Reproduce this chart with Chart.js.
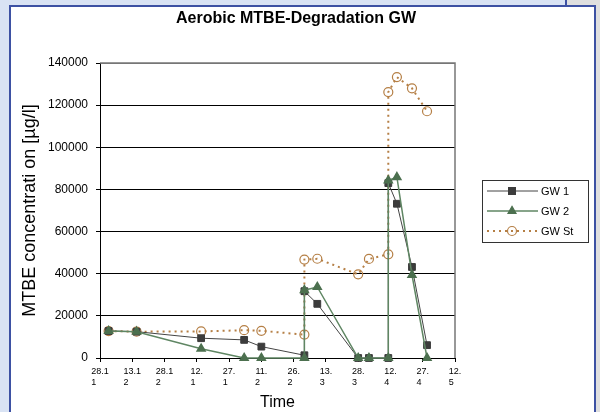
<!DOCTYPE html>
<html lang="en">
<head>
    <meta charset="UTF-8">
    <title>Aerobic MTBE-Degradation GW</title>
    <script src="https://cdn.jsdelivr.net/npm/chart.js@4"></script>
    <style>
        html, body {
            margin: 0;
            padding: 0;
            width: 600px;
            height: 412px;
            overflow: hidden;
            background: #d9e3f4;
        }
        .strip {
            position: absolute;
            background: #dfdfdf;
        }
        #sheet {
            position: absolute;
            left: 9px;
            top: 5px;
            width: 583px;
            height: 420px;
            background: #fff;
            border: 2px solid #3d51a3;
            border-bottom: none;
        }
        #topRight {
            left: 565px;
            top: 0;
            width: 35px;
            height: 5px;
            border-left: 2px solid #3d51a3;
        }
        #rightEdge {
            left: 596px;
            top: 5px;
            width: 4px;
            height: 407px;
        }
        #chartBox {
            position: absolute;
            left: 0;
            top: 0;
        }
    </style>
</head>
<body>
    <div class="strip" id="topRight"></div>
    <div class="strip" id="rightEdge"></div>
    <div id="sheet"></div>
    <canvas id="chartBox" width="600" height="412"></canvas>
    <script>
        // x = days after 28.11, sampling dates shared by all three wells
        const sampleDays = [4, 17, 47, 67, 75, 95, 95, 101, 120, 125, 134, 134, 138, 145, 152];
        const gw1 = [12800, 12500, 9400, 8600, 5400, 1300, 31700, 25700, 0, 0, 0, 83000, 73200, 43200, 6100];
        const gw2 = [12800, 12500, 4400, 0, 0, 0, 32200, 33700, 0, 0, 0, 84300, 85800, 39400, 0];
        const gwSt = [12800, 12500, 12600, 13200, 12900, 11100, 46700, 47100, 39700, 47000, 49200, 126200, 133300, 128000, 117100];

        const xTickLabels = ['28.11', '13.12', '28.12', '12.1', '27.1', '11.2', '26.2', '13.3', '28.3', '12.4', '27.4', '12.5'];
        const yTicks = [0, 20000, 40000, 60000, 80000, 100000, 120000, 140000];

        const FONT = "Arial, 'Liberation Sans', sans-serif";

        function points(ys) {
            return ys.map((y, i) => ({ x: sampleDays[i], y: y }));
        }

        // excel wraps the narrow date cells, second line sits flush left
        function wrapLabel(s) {
            const cut = s.length > 4 ? 4 : 3;
            const first = s.slice(0, cut);
            const second = s.slice(cut) + ' '.repeat(cut === 4 ? 5 : 3);
            return [first, second];
        }

        function drawMarker(ctx, style, x, y, r, fill, stroke) {
            ctx.save();
            ctx.setLineDash([]);
            ctx.beginPath();
            if (style === 'rect') {
                const s = r * Math.SQRT1_2;
                ctx.rect(x - s, y - s, 2 * s, 2 * s);
            } else if (style === 'triangle') {
                ctx.moveTo(x, y - r);
                ctx.lineTo(x + r * 0.866, y + r * 0.5);
                ctx.lineTo(x - r * 0.866, y + r * 0.5);
                ctx.closePath();
            } else {
                ctx.arc(x, y, r, 0, Math.PI * 2);
            }
            if (fill && fill !== 'transparent') {
                ctx.fillStyle = fill;
                ctx.fill();
            }
            ctx.strokeStyle = stroke;
            ctx.lineWidth = 1.2;
            ctx.stroke();
            ctx.restore();
        }

        const plotFrame = {
            id: 'plotFrame',
            beforeDatasetsDraw(chart) {
                const { ctx, chartArea: a } = chart;
                ctx.save();
                ctx.strokeStyle = '#777';
                ctx.lineWidth = 1.5;
                ctx.beginPath();
                ctx.moveTo(a.left, a.top);
                ctx.lineTo(a.right, a.top);
                ctx.lineTo(a.right, a.bottom);
                ctx.stroke();
                ctx.restore();
            }
        };

        const boxLegend = {
            id: 'boxLegend',
            afterDraw(chart) {
                const ctx = chart.ctx;
                ctx.save();
                ctx.strokeStyle = '#333';
                ctx.lineWidth = 1;
                ctx.strokeRect(482.5, 180.5, 106, 62);
                ctx.font = '11px ' + FONT;
                ctx.textBaseline = 'middle';
                ctx.fillStyle = '#000';
                chart.data.datasets.forEach((ds, i) => {
                    const y = 191 + i * 20;
                    ctx.save();
                    ctx.strokeStyle = ds.borderColor;
                    ctx.lineWidth = ds.borderWidth;
                    ctx.setLineDash(ds.borderDash || []);
                    ctx.beginPath();
                    ctx.moveTo(487, y);
                    ctx.lineTo(538, y);
                    ctx.stroke();
                    ctx.restore();
                    drawMarker(ctx, ds.pointStyle, 512, y, ds.pointRadius, ds.pointBackgroundColor, ds.pointBorderColor);
                    ctx.fillText(ds.label, 541, y + 0.5);
                });
                ctx.restore();
            }
        };

        new Chart(document.getElementById('chartBox'), {
            type: 'scatter',
            data: {
                datasets: [
                    {
                        label: 'GW 1',
                        data: points(gw1),
                        order: 1,
                        showLine: true,
                        borderColor: '#444',
                        borderWidth: 1,
                        pointStyle: 'rect',
                        pointRadius: 4.8,
                        pointBackgroundColor: '#3c3c3c',
                        pointBorderColor: '#3c3c3c',
                        clip: false
                    },
                    {
                        label: 'GW 2',
                        data: points(gw2),
                        order: 0,
                        showLine: true,
                        borderColor: '#5f8663',
                        borderWidth: 1.5,
                        pointStyle: 'triangle',
                        pointRadius: 4.6,
                        pointBackgroundColor: '#4c704f',
                        pointBorderColor: '#4c704f',
                        clip: false
                    },
                    {
                        label: 'GW St',
                        data: points(gwSt),
                        order: 2,
                        showLine: true,
                        borderColor: '#b57f45',
                        borderWidth: 2,
                        borderDash: [2, 4],
                        pointStyle: 'circle',
                        pointRadius: 4.5,
                        pointBorderWidth: 1.2,
                        pointBackgroundColor: 'transparent',
                        pointBorderColor: '#b57f45',
                        clip: false
                    }
                ]
            },
            options: {
                responsive: false,
                animation: false,
                layout: {
                    padding: { left: 0, right: 8, top: 0, bottom: 0 }
                },
                scales: {
                    x: {
                        type: 'linear',
                        min: 0,
                        max: 165,
                        afterFit: s => { s.height = 54; },
                        afterBuildTicks: s => {
                            s.ticks = xTickLabels.map((t, i) => ({ value: i * 15 }));
                        },
                        ticks: {
                            autoSkip: false,
                            maxRotation: 0,
                            padding: 4,
                            color: '#000',
                            font: { family: FONT, size: 9 },
                            callback: (v, i) => wrapLabel(xTickLabels[i])
                        },
                        grid: {
                            drawOnChartArea: false,
                            tickLength: 4,
                            tickColor: '#000'
                        },
                        border: { color: '#000', width: 1 },
                        title: {
                            display: true,
                            text: 'Time',
                            color: '#000',
                            font: { family: FONT, size: 16 },
                            padding: { top: 0, bottom: 0 }
                        }
                    },
                    y: {
                        min: 0,
                        max: 140000,
                        afterFit: s => { s.width = 100; },
                        afterBuildTicks: s => {
                            s.ticks = yTicks.map(v => ({ value: v }));
                        },
                        ticks: {
                            padding: 8,
                            color: '#000',
                            font: { family: FONT, size: 12 },
                            callback: v => String(v)
                        },
                        grid: {
                            color: c => (c.tick && c.tick.value === 140000 ? '#777' : '#000'),
                            tickLength: 4,
                            tickColor: '#000'
                        },
                        border: { color: '#000', width: 1 },
                        title: {
                            display: true,
                            text: 'MTBE concentrati on [µg/l]',
                            color: '#000',
                            font: { family: FONT, size: 18 },
                            padding: { top: 19, bottom: 0 }
                        }
                    },
                    legendSpace: {
                        type: 'linear',
                        position: 'right',
                        display: true,
                        afterFit: s => { s.width = 137; },
                        ticks: { display: false },
                        grid: { display: false },
                        border: { display: false }
                    }
                },
                plugins: {
                    legend: { display: false },
                    tooltip: { enabled: false },
                    title: {
                        display: true,
                        text: 'Aerobic MTBE-Degradation GW',
                        color: '#000',
                        font: { family: FONT, size: 16, weight: 'bold' },
                        padding: { top: 9, bottom: 34.8 }
                    }
                }
            },
            plugins: [plotFrame, boxLegend]
        });
    </script>
</body>
</html>
